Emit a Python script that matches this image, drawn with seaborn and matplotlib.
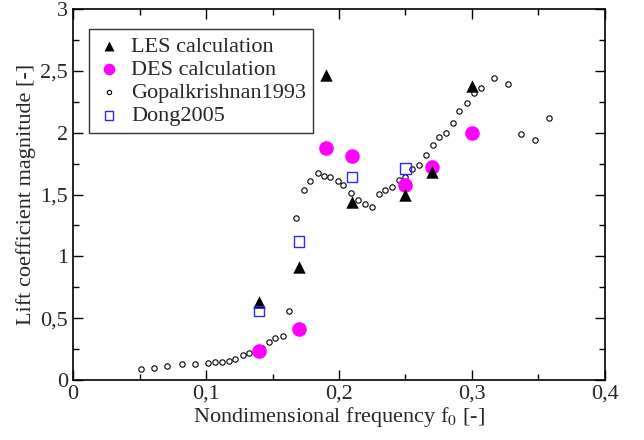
import matplotlib
matplotlib.use("Agg")
import matplotlib.pyplot as plt
from matplotlib.ticker import MultipleLocator, FuncFormatter
import seaborn as sns
import pandas as pd

# ---- data ----
les_f = [0.14, 0.17, 0.19, 0.21, 0.25, 0.27, 0.30]
les_v = [0.63, 0.91, 2.47, 1.44, 1.50, 1.68, 2.38]

des_f = [0.14, 0.17, 0.19, 0.21, 0.25, 0.27, 0.30]
des_v = [0.235, 0.41, 1.88, 1.81, 1.58, 1.72, 2.00]

dong_f = [0.14, 0.17, 0.21, 0.25]
dong_v = [0.56, 1.12, 1.64, 1.71]

gop_f = [0.051, 0.061, 0.071, 0.082, 0.092, 0.1015, 0.107, 0.112, 0.117, 0.122,
         0.128, 0.132, 0.1375, 0.142, 0.147, 0.152, 0.158, 0.1626, 0.1677, 0.1734,
         0.1784, 0.184, 0.1885, 0.1932, 0.199, 0.2032, 0.209, 0.214, 0.2193, 0.2248,
         0.2301, 0.2348, 0.2398, 0.2451, 0.2499, 0.2549, 0.2602, 0.2656, 0.2707, 0.2754,
         0.2802, 0.2855, 0.2905, 0.2962, 0.3013, 0.3068, 0.3163, 0.3268, 0.3368, 0.3471,
         0.3577]
gop_v = [0.086, 0.099, 0.113, 0.132, 0.127, 0.137, 0.143, 0.146, 0.154, 0.172,
         0.200, 0.216, 0.240, 0.261, 0.305, 0.340, 0.359, 0.558, 1.31, 1.536,
         1.609, 1.671, 1.652, 1.644, 1.611, 1.576, 1.509, 1.458, 1.423, 1.401,
         1.504, 1.536, 1.563, 1.617, 1.644, 1.703, 1.738, 1.819, 1.897, 1.962,
         1.994, 2.075, 2.175, 2.237, 2.318, 2.358, 2.439, 2.393, 1.989, 1.943,
         2.121]

sns.set_theme(style="ticks")
plt.rcParams["font.family"] = ["Liberation Serif", "DejaVu Serif"]
plt.rcParams["mathtext.fontset"] = "stix"

fig = plt.figure(figsize=(6.44, 4.40), dpi=100)
ax = fig.add_axes([0.1134, 0.1364, 0.9394 - 0.1134, 0.9795 - 0.1364])

sns.scatterplot(x=les_f, y=les_v, ax=ax, marker="^", s=80, color="black",
                edgecolor="black", linewidth=0, label="LES calculation", zorder=4)
sns.scatterplot(x=des_f, y=des_v, ax=ax, marker="o", s=110, color="#ff00ff",
                edgecolor="#ff00ff", linewidth=0, label="DES calculation", zorder=3)
sns.scatterplot(x=gop_f, y=gop_v, ax=ax, marker="o", s=15, facecolor="white",
                edgecolor="black", linewidth=0.8, label="Gopalkrishnan1993", zorder=2)
sns.scatterplot(x=dong_f, y=dong_v, ax=ax, marker="s", s=55, facecolor="none",
                edgecolor="#2a2aff", linewidth=1.0, label="Dong2005", zorder=5)

ax.set_xlim(0, 0.4)
ax.set_ylim(0, 3)
ax.xaxis.set_major_locator(MultipleLocator(0.1))
ax.xaxis.set_minor_locator(MultipleLocator(0.05))
ax.yaxis.set_major_locator(MultipleLocator(0.5))
ax.yaxis.set_minor_locator(MultipleLocator(0.25))

def fmt(v, pos):
    s = ("%.2f" % v).rstrip("0").rstrip(".")
    return s.replace(".", ",")

ax.xaxis.set_major_formatter(FuncFormatter(fmt))
ax.yaxis.set_major_formatter(FuncFormatter(fmt))
ax.tick_params(which="both", direction="in", top=True, right=True,
               labelsize=16, color="black", width=1)
ax.tick_params(which="major", length=7)
ax.tick_params(which="minor", length=4)
for sp in ax.spines.values():
    sp.set_visible(True)
    sp.set_color("black")
    sp.set_linewidth(1.2)

ax.set_xlabel("Nondimensional frequency f$_0$ [-]", fontsize=16, labelpad=1)
ax.set_ylabel("Lift coefficient magnitude [-]", fontsize=16, labelpad=3)

leg = ax.legend(loc="upper left", bbox_to_anchor=(0.03, 0.945), frameon=True,
                fancybox=False, edgecolor="black", fontsize=16, handletextpad=0.4,
                borderpad=0.3, labelspacing=0.12, handlelength=1.2,
                markerscale=0.8, borderaxespad=0)
leg.get_frame().set_linewidth(1.0)

fig.savefig("out.png", dpi=100)
